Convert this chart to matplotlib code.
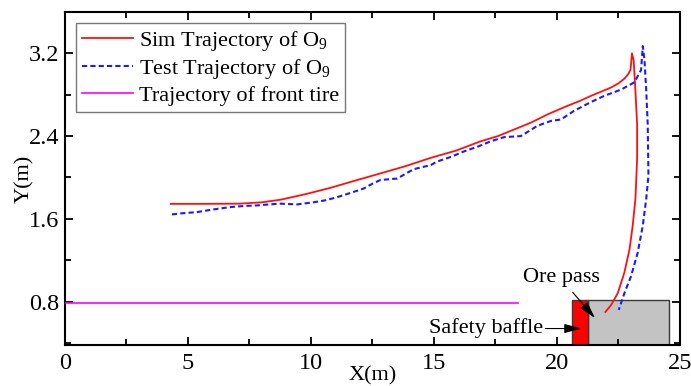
import matplotlib
matplotlib.use("Agg")
import matplotlib.pyplot as plt
from matplotlib.patches import Rectangle
from matplotlib.ticker import MultipleLocator

plt.rcParams["font.family"] = ["Liberation Serif", "DejaVu Serif"]
plt.rcParams["mathtext.fontset"] = "custom"
plt.rcParams["mathtext.rm"] = "Liberation Serif"
plt.rcParams["mathtext.it"] = "Liberation Serif:italic"

# simulated trajectory of point O9 (m)
sim_x = [4.30, 5.5, 7.1, 8.0, 8.76, 9.8, 10.79, 11.8, 12.83, 13.85, 14.87, 15.9,
         16.9, 17.6, 18.94, 19.62, 20.3, 20.98, 21.39, 21.8, 22.2, 22.5, 22.74, 22.9,
         22.99, 23.05, 23.12, 23.19, 23.26, 23.26, 23.22, 23.19, 23.08, 22.95, 22.74,
         22.47, 22.2, 21.97]
sim_y = [1.745, 1.745, 1.747, 1.76, 1.785, 1.84, 1.90, 1.97, 2.04, 2.11, 2.19, 2.26,
         2.35, 2.40, 2.53, 2.61, 2.68, 2.745, 2.79, 2.83, 2.87, 2.91, 2.955, 3.0,
         3.04, 3.20, 3.13, 2.84, 2.51, 2.19, 1.96, 1.795, 1.535, 1.305, 1.08,
         0.88, 0.767, 0.70]

# measured trajectory of point O9 (m)
test_x = [4.35, 4.8, 5.36, 6.0, 6.72, 7.3, 7.81, 8.3, 8.76, 9.44, 10.1, 10.6, 11.07,
          11.6, 12.14, 12.5, 12.83, 13.51, 14.17, 14.87, 15.14, 15.7, 16.23, 16.8,
          17.31, 17.85, 18.53, 19.21, 19.76, 20.16, 20.7, 21.39, 21.93, 22.61, 23.15,
          23.42, 23.49, 23.56, 23.63, 23.69, 23.72, 23.63, 23.49, 23.28, 23.01, 22.74,
          22.51]
test_y = [1.643, 1.655, 1.665, 1.69, 1.714, 1.725, 1.73, 1.74, 1.747, 1.74, 1.76, 1.78, 1.81,
          1.85, 1.893, 1.94, 1.976, 1.99, 2.08, 2.12, 2.155, 2.20, 2.253, 2.30,
          2.35, 2.39, 2.40, 2.50, 2.547, 2.56, 2.645, 2.73, 2.79, 2.85, 2.92,
          3.04, 3.27, 3.13, 2.84, 2.51, 2.02, 1.795, 1.535, 1.27, 1.045, 0.88,
          0.72]

# front tire path
tire_x = [0.0, 18.4]
tire_y = [0.79, 0.79]

# obstacles: (x0, x1, top)
baffle = (20.6, 21.27, 0.82)
ore_pass = (21.27, 24.55, 0.82)

XLIM = (0, 25)
YLIM = (0.38, 3.6)

fig = plt.figure(figsize=(6.91, 3.86), dpi=100)
ax = fig.add_axes([0.094, 0.106, 0.890, 0.863])

ax.add_patch(Rectangle((ore_pass[0], YLIM[0]), ore_pass[1] - ore_pass[0], ore_pass[2] - YLIM[0],
                       facecolor="#c3c3c3", edgecolor="#3a3a3a", linewidth=1.0, zorder=1))
ax.add_patch(Rectangle((baffle[0], YLIM[0]), baffle[1] - baffle[0], baffle[2] - YLIM[0],
                       facecolor="#ff0000", edgecolor="#3a3a3a", linewidth=1.0, zorder=1))

ax.plot(sim_x, sim_y, color="#ff1010", linewidth=1.3, label="Sim Trajectory of O$_9$", zorder=3)
ax.plot(test_x, test_y, color="#1a1aff", linewidth=1.5, linestyle=(0, (2.5, 1.5)),
        label="Test Trajectory of O$_9$", zorder=3)
ax.plot(tire_x, tire_y, color="#ff00ff", linewidth=1.2, label="Trajectory of front tire", zorder=3)

head = "-|>,head_length=0.75,head_width=0.2"
ax.text(20.2, 1.03, "Ore pass", fontsize=16, ha="center", va="center", zorder=4)
ax.annotate("", xy=(21.55, 0.64), xytext=(20.64, 0.89),
            arrowprops=dict(arrowstyle=head, color="black", lw=0.8,
                            mutation_scale=14, shrinkA=0, shrinkB=0), zorder=4)
ax.annotate("Safety baffle", xy=(21.0, 0.54), xytext=(19.42, 0.54), fontsize=16,
            ha="right", va="center",
            arrowprops=dict(arrowstyle=head, color="black", lw=0.8,
                            mutation_scale=14, shrinkA=0, shrinkB=0), zorder=4)

ax.set_xlim(*XLIM)
ax.set_ylim(*YLIM)
ax.xaxis.set_major_locator(MultipleLocator(5))
ax.xaxis.set_minor_locator(MultipleLocator(2.5))
ax.yaxis.set_major_locator(MultipleLocator(0.8))
ax.yaxis.set_minor_locator(MultipleLocator(0.4))
ax.tick_params(which="both", direction="in", top=True, right=True, width=1.3, labelsize=17.5)
ax.tick_params(axis="y", pad=4)
ax.tick_params(axis="x", pad=6)
ax.tick_params(which="major", length=6)
ax.tick_params(which="minor", length=4)
for sp in ax.spines.values():
    sp.set_linewidth(1.5)

ax.set_xlabel("X(m)", fontsize=16, labelpad=-6)
ax.set_ylabel("Y(m)", fontsize=16, labelpad=-4)

leg = ax.legend(loc="upper left", fontsize=16, frameon=True, fancybox=False,
                handlelength=2.3, handletextpad=0.3, labelspacing=0.2,
                borderpad=0.25, borderaxespad=0.5)
leg.get_frame().set_edgecolor("#555555")
leg.get_frame().set_linewidth(1.0)

fig.savefig("out.png", dpi=100)
